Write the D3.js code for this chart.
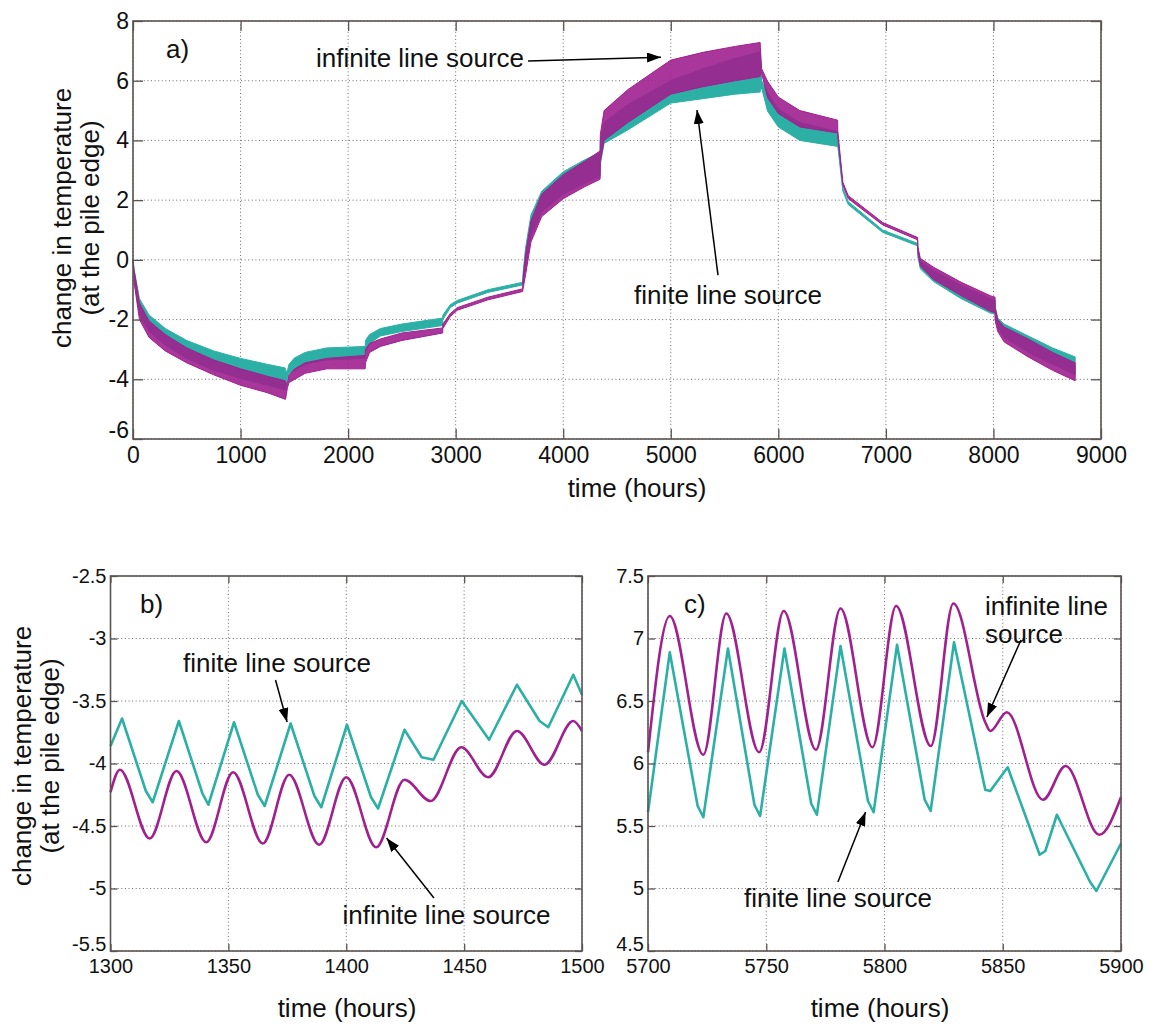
<!DOCTYPE html>
<html><head><meta charset="utf-8">
<script src="https://cdn.jsdelivr.net/npm/d3@7"></script>
<style>
body{margin:0;background:#fff}
text{font-family:"Liberation Sans",Arial,Helvetica,sans-serif;fill:#111}
.grid{stroke:#6a6a6a;stroke-width:1;stroke-dasharray:1,2.6}
</style>
</head><body>
<svg id="chart" width="1150" height="1024"></svg>
<script>
// ---------- Panel a: full year, daily oscillation envelopes ----------
const aTime = [0,10,60,150,300,500,750,1000,1250,1415,
  1418,1435,1450,1500,1600,1800,2159,
  2161,2200,2300,2500,2879,
  2881,2950,3014,3300,3623,
  3625,3650,3700,3800,4000,4200,4343,
  4345,4380,4600,5000,5300,5600,5831,
  5833,5845,5900,6000,6200,6551,
  6553,6600,6650,6970,7295,
  7297,7320,7440,7700,7970,8015,
  8017,8040,8100,8323,8550,8760];
const aFiniteMax = [0,-0.3,-1.3,-1.85,-2.3,-2.7,-3.05,-3.3,-3.5,-3.62,
  -3.73,-3.73,-3.5,-3.29,-3.1,-2.95,-2.9,
  -2.7,-2.5,-2.3,-2.15,-1.95,
  -1.85,-1.5,-1.36,-1.0,-0.75,
  -0.5,0.4,1.5,2.3,2.95,3.35,3.6,
  4.0,4.6,5.2,6.0,6.4,6.75,6.97,
  6.8,6.0,5.6,5.05,4.6,4.3,
  4.0,2.4,1.95,1.0,0.55,
  0.3,-0.05,-0.35,-0.85,-1.3,-1.35,
  -1.6,-1.95,-2.15,-2.55,-2.95,-3.25];
const aFiniteMin = [0,-0.6,-1.8,-2.4,-2.85,-3.3,-3.7,-3.97,-4.2,-4.36,
  -4.36,-3.97,-3.81,-3.71,-3.5,-3.35,-3.3,
  -3.1,-2.8,-2.55,-2.4,-2.2,
  -2.0,-1.6,-1.45,-1.09,-0.84,
  -0.8,-0.3,0.8,1.6,2.2,2.55,2.8,
  3.2,3.9,4.35,5.25,5.4,5.55,5.62,
  5.7,5.75,4.98,4.45,4.0,3.8,
  3.8,2.3,1.85,0.92,0.47,
  0.1,-0.3,-0.72,-1.3,-1.78,-1.82,
  -2.0,-2.3,-2.6,-3.1,-3.5,-3.85];
const aInfiniteMax = [0,-0.35,-1.45,-2.05,-2.5,-2.95,-3.35,-3.65,-3.9,-4.05,
  -4.13,-4.13,-3.87,-3.66,-3.45,-3.3,-3.2,
  -3.0,-2.8,-2.65,-2.45,-2.28,
  -2.15,-1.8,-1.6,-1.25,-0.97,
  -0.7,0.2,1.3,2.2,2.85,3.3,3.65,
  4.2,5.0,5.7,6.69,6.95,7.15,7.28,
  7.1,6.4,5.98,5.45,5.0,4.68,
  4.3,2.6,2.15,1.25,0.75,
  0.45,0.05,-0.24,-0.75,-1.2,-1.25,
  -1.6,-2.0,-2.25,-2.65,-3.1,-3.45];
const aInfiniteMin = [0,-0.75,-2.0,-2.6,-3.05,-3.45,-3.85,-4.2,-4.45,-4.67,
  -4.67,-4.30,-4.11,-4.01,-3.8,-3.65,-3.65,
  -3.45,-3.1,-2.9,-2.7,-2.45,
  -2.3,-1.9,-1.69,-1.34,-1.06,
  -1.0,-0.5,0.6,1.45,2.05,2.45,2.7,
  3.3,4.0,4.6,5.55,5.8,6.0,6.14,
  6.2,6.25,5.43,4.9,4.45,4.25,
  4.1,2.5,2.05,1.17,0.67,
  0.25,-0.2,-0.65,-1.2,-1.72,-1.77,
  -2.05,-2.4,-2.75,-3.25,-3.7,-4.05];
const aXTicks = [0,1000,2000,3000,4000,5000,6000,7000,8000,9000];
const aYTicks = [-6,-4,-2,0,2,4,6,8];

// ---------- Panel b: 1300-1500 h ----------
const bFiniteTime = [1300,1304.9,1315,1317.9,1329,1339,1341.5,1352.4,1362.5,1365.4,1376.4,1386.5,1389.4,1400.3,1410.5,1413.5,1424.7,1432,1437,1449,1460.6,1472.4,1482,1485.7,1496.3,1500];
const bFiniteValue = [-3.86,-3.64,-4.22,-4.31,-3.66,-4.24,-4.33,-3.67,-4.25,-4.34,-3.68,-4.26,-4.35,-3.69,-4.27,-4.36,-3.73,-3.95,-3.97,-3.50,-3.81,-3.37,-3.66,-3.71,-3.29,-3.45];
const bInfiniteTime = [1300,1304,1316.6,1328,1340.6,1352,1364.6,1375.8,1388.5,1400,1412.7,1424.7,1435.8,1448.8,1460.2,1472.4,1484.1,1496.3,1500];
const bInfiniteValue = [-4.23,-4.05,-4.60,-4.06,-4.63,-4.07,-4.64,-4.09,-4.65,-4.11,-4.67,-4.13,-4.30,-3.87,-4.11,-3.74,-4.01,-3.66,-3.74];
const bXTicks = [1300,1350,1400,1450,1500];
const bYTicks = [-5.5,-5,-4.5,-4,-3.5,-3,-2.5];

// ---------- Panel c: 5700-5900 h ----------
const cFiniteTime = [5700,5709.2,5721,5723.4,5733.8,5745,5747.4,5757.7,5769,5771.4,5781.4,5793,5795.4,5805.3,5817,5819.5,5829.4,5842.6,5844.7,5852.1,5865.6,5868,5872.9,5887,5889.6,5900];
const cFiniteValue = [5.61,6.89,5.66,5.57,6.92,5.67,5.58,6.92,5.68,5.59,6.94,5.70,5.61,6.95,5.71,5.62,6.97,5.79,5.78,5.97,5.27,5.30,5.59,5.05,4.98,5.36];
const cInfiniteTime = [5700,5709.2,5723.4,5733.1,5747,5757.4,5771,5781.4,5794.9,5804.9,5819.6,5829.1,5842.6,5844.7,5851.7,5867,5876.6,5890.8,5900];
const cInfiniteValue = [6.09,7.18,6.07,7.20,6.09,7.22,6.11,7.24,6.13,7.26,6.14,7.28,6.33,6.26,6.41,5.71,5.98,5.43,5.73];
const cXTicks = [5700,5750,5800,5850,5900];
const cYTicks = [4.5,5,5.5,6,6.5,7,7.5];

const yTitle = ["change in temperature","(at the pile edge)"];
const xTitle = "time (hours)";
const labelFinite = "finite line source";
const labelInfinite = "infinite line source";

const COL_FIN = "#2cb0a6";
const COL_INF = "#a0208f";
const FRAME = "#5a5452";

const svg = d3.select("#chart");
const defs = svg.append("defs");
defs.append("marker").attr("id","ah").attr("viewBox","0 0 14 10")
  .attr("refX",14).attr("refY",5).attr("markerWidth",14).attr("markerHeight",10)
  .attr("markerUnits","userSpaceOnUse").attr("orient","auto")
  .append("path").attr("d","M0,0 L14,5 L0,10 Z").attr("fill","#000");

function makePanel(c){
  const x = d3.scaleLinear().domain(c.xd).range([c.l,c.r]);
  const y = d3.scaleLinear().domain(c.yd).range([c.b,c.t]);
  const g = svg.append("g");
  const grid = g.append("g");
  grid.selectAll(".gx").data(c.xt).join("line").attr("class","grid")
    .attr("x1",d=>x(d)).attr("x2",d=>x(d)).attr("y1",c.t).attr("y2",c.b);
  grid.selectAll(".gy").data(c.yt).join("line").attr("class","grid")
    .attr("y1",d=>y(d)).attr("y2",d=>y(d)).attr("x1",c.l).attr("x2",c.r);
  const data = g.append("g");
  const fr = g.append("g");
  return {x,y,g,data,fr,c};
}
function finishPanel(p){
  const {x,y,fr,c} = p;
  const fmt = d=>String(d);
  const style = sel=>{
    sel.select(".domain").remove();
    sel.selectAll(".tick line").attr("stroke",FRAME).attr("stroke-width",1.3);
    sel.selectAll("text").style("font-size",c.fs+"px").attr("fill","#111")
      .style("font-family",'"Liberation Sans",Arial,sans-serif');
  };
  fr.append("g").attr("transform",`translate(0,${c.b})`)
    .call(d3.axisBottom(x).tickValues(c.xt).tickFormat(fmt).tickSize(-c.tl).tickPadding(c.xpad)).call(style);
  const ya = fr.append("g").attr("transform",`translate(${c.l},0)`)
    .call(d3.axisLeft(y).tickValues(c.yt).tickFormat(fmt).tickSize(-c.tl).tickPadding(4)).call(style);
  // lowest y label sits just above the corner so it does not collide with the first x label
  ya.selectAll(".tick").filter(d=>d===c.yd[0]).select("text").attr("dy","-0.05em");
  fr.append("g").attr("transform",`translate(0,${c.t})`)
    .call(d3.axisTop(x).tickValues(c.xt).tickFormat("").tickSize(-c.tl)).call(style);
  fr.append("g").attr("transform",`translate(${c.r},0)`)
    .call(d3.axisRight(y).tickValues(c.yt).tickFormat("").tickSize(-c.tl)).call(style);
  fr.append("rect").attr("x",c.l).attr("y",c.t).attr("width",c.r-c.l).attr("height",c.b-c.t)
    .attr("fill","none").attr("stroke",FRAME).attr("stroke-width",1.6);
  svg.append("text").attr("x",c.xtx).attr("y",c.xty).attr("text-anchor","middle")
    .style("font-size","26px").text(xTitle);
}
function yLabel(cx1,cx2,cy){
  svg.append("text").attr("transform",`translate(${cx1},${cy}) rotate(-90)`)
    .attr("text-anchor","middle").style("font-size","26px").text(yTitle[0]);
  svg.append("text").attr("transform",`translate(${cx2},${cy}) rotate(-90)`)
    .attr("text-anchor","middle").style("font-size","26px").text(yTitle[1]);
}
function txt(p,tx,ty,s){
  p.g.append("text").attr("x",p.x(tx)).attr("y",p.y(ty)).style("font-size","26px").text(s);
}
function arrow(p,x1,y1,x2,y2){
  p.g.append("line").attr("x1",p.x(x1)).attr("y1",p.y(y1)).attr("x2",p.x(x2)).attr("y2",p.y(y2))
    .attr("stroke","#000").attr("stroke-width",1.5).attr("marker-end","url(#ah)");
}

// ---- Panel a ----
const pa = makePanel({xd:[0,9000],yd:[-6,8],l:133,r:1101,t:21,b:439,xt:aXTicks,yt:aYTicks,tl:10,fs:23,xpad:8,xtx:637,xty:497});
const aRows = aTime.map((t,i)=>({t,fmax:aFiniteMax[i],fmin:aFiniteMin[i],imax:aInfiniteMax[i],imin:aInfiniteMin[i]}));
pa.data.append("path").datum(aRows)
  .attr("d",d3.area().x(d=>pa.x(d.t)).y0(d=>pa.y(d.fmin)).y1(d=>pa.y(d.fmax)))
  .attr("fill",COL_FIN).attr("stroke",COL_FIN).attr("stroke-width",1);
pa.data.append("path").datum(aRows)
  .attr("d",d3.area().x(d=>pa.x(d.t)).y0(d=>pa.y(d.imin)).y1(d=>pa.y(d.imax)))
  .attr("fill",COL_INF).attr("fill-opacity",0.9).attr("stroke",COL_INF).attr("stroke-width",1);
finishPanel(pa);
yLabel(71,99,218);
txt(pa,307,6.76,"a)");
txt(pa,1701,6.46,labelInfinite);
arrow(pa,3673,6.66,4909,6.79);
txt(pa,4658,-1.48,labelFinite);
arrow(pa,5439,-0.51,5244,5.02);

// ---- Panel b ----
const pb = makePanel({xd:[1300,1500],yd:[-5.5,-2.5],l:110.5,r:582,t:576,b:951,xt:bXTicks,yt:bYTicks,tl:7,fs:20,xpad:8,xtx:347,xty:1017});
pb.data.append("path").datum(bFiniteTime.map((t,i)=>[t,bFiniteValue[i]]))
  .attr("d",d3.line().x(d=>pb.x(d[0])).y(d=>pb.y(d[1])))
  .attr("fill","none").attr("stroke",COL_FIN).attr("stroke-width",2.6).attr("stroke-linejoin","round");
pb.data.append("path").datum(bInfiniteTime.map((t,i)=>[t,bInfiniteValue[i]]))
  .attr("d",d3.line().curve(d3.curveMonotoneX).x(d=>pb.x(d[0])).y(d=>pb.y(d[1])))
  .attr("fill","none").attr("stroke",COL_INF).attr("stroke-width",2.6);
finishPanel(pb);
yLabel(31,59,756);
txt(pb,1312.5,-2.796,"b)");
txt(pb,1330.8,-3.268,labelFinite);
arrow(pb,1370.0,-3.332,1374.9,-3.668);
txt(pb,1398.4,-5.284,labelInfinite);
arrow(pb,1437.2,-5.076,1417.1,-4.596);

// ---- Panel c ----
const pc = makePanel({xd:[5700,5900],yd:[4.5,7.5],l:648,r:1121,t:576,b:951,xt:cXTicks,yt:cYTicks,tl:7,fs:20,xpad:8,xtx:880,xty:1017});
pc.data.append("path").datum(cFiniteTime.map((t,i)=>[t,cFiniteValue[i]]))
  .attr("d",d3.line().x(d=>pc.x(d[0])).y(d=>pc.y(d[1])))
  .attr("fill","none").attr("stroke",COL_FIN).attr("stroke-width",2.6).attr("stroke-linejoin","round");
pc.data.append("path").datum(cInfiniteTime.map((t,i)=>[t,cInfiniteValue[i]]))
  .attr("d",d3.line().curve(d3.curveMonotoneX).x(d=>pc.x(d[0])).y(d=>pc.y(d[1])))
  .attr("fill","none").attr("stroke",COL_INF).attr("stroke-width",2.6);
finishPanel(pc);
txt(pc,5715.2,7.204,"c)");
txt(pc,5842.5,7.188,"infinite line");
txt(pc,5842.5,6.964,"source");
arrow(pc,5857.7,6.988,5843.3,6.372);
txt(pc,5740.6,4.852,labelFinite);
arrow(pc,5780.3,5.052,5792.0,5.612);
</script></body></html>
